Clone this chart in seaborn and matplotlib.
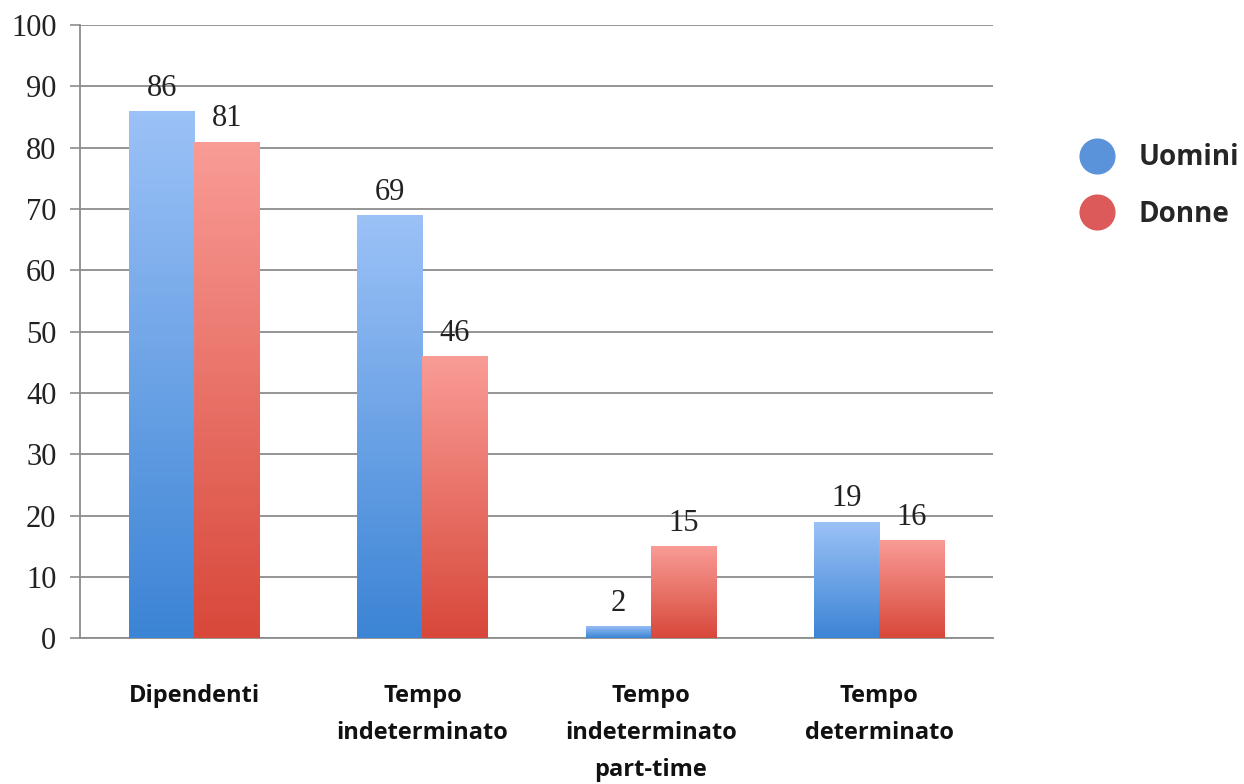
import numpy as np
import pandas as pd
import matplotlib
matplotlib.use("Agg")
import matplotlib.pyplot as plt
from matplotlib.colors import LinearSegmentedColormap
from matplotlib.lines import Line2D
import seaborn as sns

categories = ["Dipendenti", "Tempo\nindeterminato", "Tempo\nindeterminato\npart-time", "Tempo\ndeterminato"]
uomini = [86, 69, 2, 19]
donne = [81, 46, 15, 16]
series = ["Uomini", "Donne"]
yticks = [0, 10, 20, 30, 40, 50, 60, 70, 80, 90, 100]

df = pd.DataFrame({
    "categoria": categories * 2,
    "valore": uomini + donne,
    "sesso": [series[0]] * len(categories) + [series[1]] * len(categories),
})

sns.set_theme(style="white")
plt.rcParams["font.family"] = ["Open Sans", "DejaVu Sans"]

fig = plt.figure(figsize=(12.44, 7.84), dpi=100)
ax = fig.add_axes([0.0643, 0.186, 0.7340, 0.782])

solid = {"Uomini": "#5b93db", "Donne": "#dc5a5a"}
sns.barplot(data=df, x="categoria", y="valore", hue="sesso", order=categories,
            hue_order=series, palette=solid, width=0.57, gap=0, dodge=True,
            legend=False, ax=ax, zorder=3, linewidth=0)

# vertical gradient fill for each bar, light at the top, darker at the base
grads = {
    "Uomini": LinearSegmentedColormap.from_list("u", ["#3c84d5", "#9cc2f7"]),
    "Donne": LinearSegmentedColormap.from_list("d", ["#d8483a", "#f99c96"]),
}
ramp = np.linspace(0, 1, 256).reshape(-1, 1)
n = len(categories)
for i, patch in enumerate(ax.patches[: 2 * n]):
    name = series[i // n]
    x0, y0 = patch.get_x(), patch.get_y()
    w, h = patch.get_width(), patch.get_height()
    im = ax.imshow(ramp, cmap=grads[name], origin="lower", aspect="auto",
                   extent=[x0, x0 + w, y0, y0 + h], zorder=3.5)
    im.set_clip_path(patch)
    val = y0 + h
    ax.annotate(f"{val:.0f}", (x0 + w / 2, val), xytext=(0, 6),
                textcoords="offset points", ha="center", va="bottom",
                fontsize=22, family="Liberation Serif", color="#222222", zorder=5)

ax.set_xlim(-0.5, n - 0.5)
ax.set_ylim(0, 100)
ax.set_yticks(yticks)
ax.set_yticklabels([str(t) for t in yticks], family="Liberation Serif", fontsize=22, color="#222222")
ax.yaxis.grid(True, color="#8c8c8c", linewidth=1.3, zorder=0)
ax.set_axisbelow(True)

ax.set_xticks(range(n))
ax.set_xticklabels(categories, fontsize=17, fontweight="bold", color="#111111", linespacing=1.72)
ax.tick_params(axis="x", which="major", length=0, pad=33)
ax.set_xticks([k + 0.5 for k in range(n)], minor=True)
ax.tick_params(axis="x", which="minor", length=6, width=1.2, color="#8c8c8c", direction="out")
ax.tick_params(axis="y", length=7, width=1.2, color="#8c8c8c", direction="out", pad=10, left=True)
for lab in ax.get_xticklabels():
    lab.set_va("top")

ax.set_xlabel("")
ax.set_ylabel("")
for side in ["top", "right"]:
    ax.spines[side].set_visible(False)
for side in ["left", "bottom"]:
    ax.spines[side].set_color("#8c8c8c")
    ax.spines[side].set_linewidth(1.3)

handles = [Line2D([], [], marker="o", linestyle="", markersize=25,
                  markerfacecolor=solid[s], markeredgecolor=solid[s]) for s in series]
fig.legend(handles, series, loc="upper left", bbox_to_anchor=(0.846, 0.849),
           frameon=False, prop={"family": "Open Sans", "weight": "bold", "size": 20},
           handletextpad=0.8, labelspacing=1.0, handlelength=1.4)

fig.savefig("out.png", dpi=100, facecolor="white")
